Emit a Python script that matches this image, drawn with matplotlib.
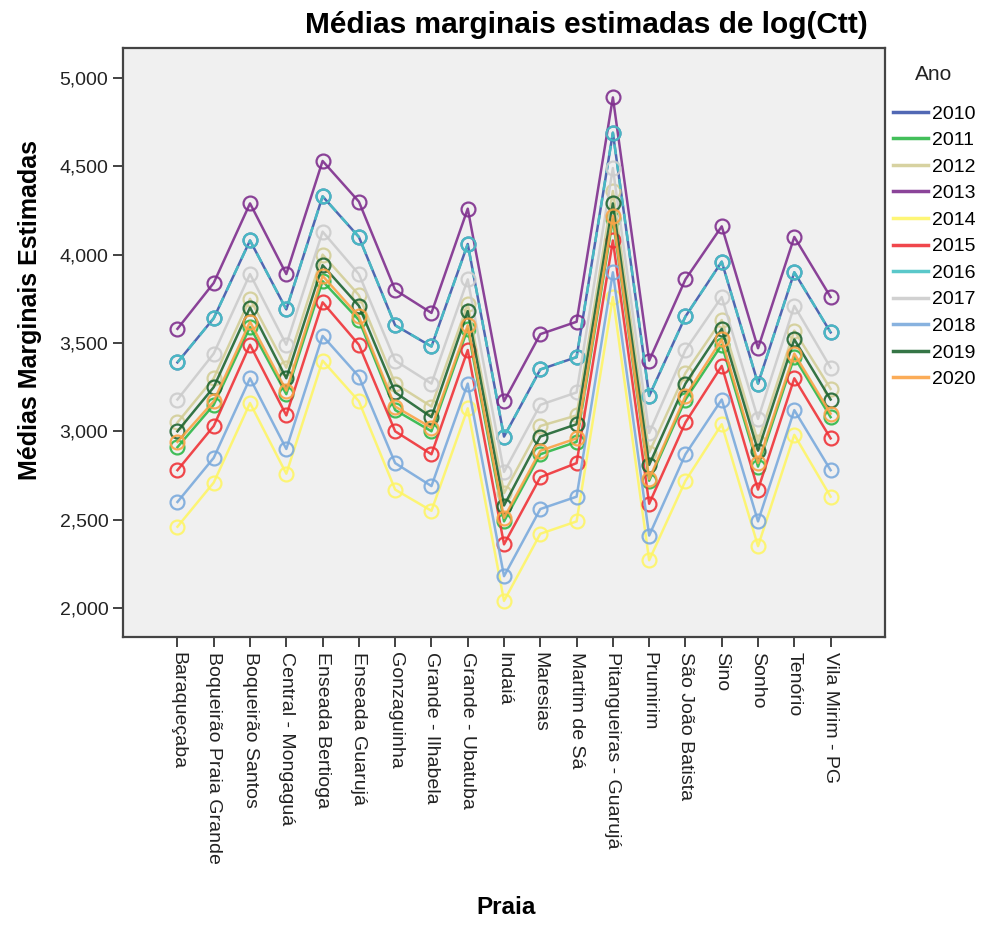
import matplotlib
matplotlib.use('Agg')
import matplotlib.pyplot as plt
from matplotlib.ticker import FuncFormatter

plt.rcParams['font.family'] = ['Liberation Sans', 'DejaVu Sans']

praias = ["Baraqueçaba", "Boqueirão Praia Grande", "Boqueirão Santos", "Central - Mongaguá",
          "Enseada Bertioga", "Enseada Guarujá", "Gonzaguinha", "Grande - Ilhabela",
          "Grande - Ubatuba", "Indaiá", "Maresias", "Martim de Sá", "Pitangueiras - Guarujá",
          "Prumirim", "São João Batista", "Sino", "Sonho", "Tenório", "Vila Mirim - PG"]

anos = ["2010", "2011", "2012", "2013", "2014", "2015", "2016", "2017", "2018", "2019", "2020"]

m2010 = [3.39, 3.64, 4.08, 3.69, 4.33, 4.10, 3.60, 3.48, 4.06, 2.97, 3.35, 3.42, 4.69, 3.20, 3.65, 3.96, 3.27, 3.90, 3.56]
m2011 = [2.91, 3.15, 3.59, 3.21, 3.85, 3.63, 3.12, 3.00, 3.58, 2.49, 2.87, 2.94, 4.20, 2.72, 3.18, 3.49, 2.80, 3.42, 3.08]
m2012 = [3.05, 3.30, 3.75, 3.36, 4.00, 3.77, 3.27, 3.14, 3.72, 2.65, 3.03, 3.09, 4.36, 2.88, 3.33, 3.63, 2.94, 3.57, 3.24]
m2013 = [3.58, 3.84, 4.29, 3.89, 4.53, 4.30, 3.80, 3.67, 4.26, 3.17, 3.55, 3.62, 4.89, 3.40, 3.86, 4.16, 3.47, 4.10, 3.76]
m2014 = [2.46, 2.71, 3.16, 2.76, 3.40, 3.17, 2.67, 2.55, 3.13, 2.04, 2.42, 2.49, 3.76, 2.27, 2.72, 3.04, 2.35, 2.98, 2.63]
m2015 = [2.78, 3.03, 3.49, 3.09, 3.73, 3.49, 3.00, 2.87, 3.46, 2.36, 2.74, 2.82, 4.08, 2.59, 3.05, 3.37, 2.67, 3.30, 2.96]
m2016 = [3.39, 3.64, 4.08, 3.69, 4.33, 4.10, 3.60, 3.48, 4.06, 2.97, 3.35, 3.42, 4.69, 3.20, 3.65, 3.96, 3.27, 3.90, 3.56]
m2017 = [3.18, 3.44, 3.89, 3.49, 4.13, 3.89, 3.40, 3.27, 3.86, 2.77, 3.15, 3.22, 4.49, 2.99, 3.46, 3.76, 3.07, 3.71, 3.36]
m2018 = [2.60, 2.85, 3.30, 2.90, 3.54, 3.31, 2.82, 2.69, 3.27, 2.18, 2.56, 2.63, 3.90, 2.41, 2.87, 3.18, 2.49, 3.12, 2.78]
m2019 = [3.00, 3.25, 3.70, 3.30, 3.94, 3.71, 3.22, 3.08, 3.68, 2.58, 2.97, 3.04, 4.29, 2.81, 3.27, 3.58, 2.89, 3.52, 3.18]
m2020 = [2.94, 3.17, 3.62, 3.23, 3.88, 3.65, 3.14, 3.02, 3.60, 2.51, 2.89, 2.96, 4.22, 2.73, 3.20, 3.52, 2.82, 3.44, 3.10]

medias = [m2010, m2011, m2012, m2013, m2014, m2015, m2016, m2017, m2018, m2019, m2020]
cores = ["#3e58ac", "#2eb848", "#d3ce97", "#7f2f8e", "#fef567", "#ef3338",
         "#48c2c5", "#cccccc", "#7baadc", "#1f6632", "#fba346"]

fig = plt.figure(figsize=(9.85, 9.25), dpi=100)
ax = fig.add_axes([0.1249, 0.3114, 0.7736, 0.6368])
ax.set_facecolor('#f0f0f0')

x = list(range(len(praias)))
for ano, vals, cor in zip(anos, medias, cores):
    ls = (0, (4, 3)) if ano == "2016" else '-'
    ax.plot(x, vals, color=cor, lw=1.8, ls=ls, marker='o', ms=10, mfc='none',
            mec=cor, mew=1.6, alpha=0.9, label=ano)

ax.set_xlim(-1.5, 19.5)
ax.set_ylim(1.836, 5.17)
ax.set_yticks([2.0, 2.5, 3.0, 3.5, 4.0, 4.5, 5.0])
ax.yaxis.set_major_formatter(FuncFormatter(lambda v, p: f"{v:.3f}".replace('.', ',')))
ax.set_xticks(x)
ax.set_xticklabels(praias, rotation=270, fontsize=14)
ax.tick_params(axis='y', labelsize=14, length=7, width=1.2, colors='#222222')
ax.tick_params(axis='x', length=7, width=1.2, colors='#222222')
for s in ax.spines.values():
    s.set_color('#444444')
    s.set_linewidth(1.6)

fig.text(0.595, 0.973, "Médias marginais estimadas de log(Ctt)", ha='center', va='center',
         fontsize=21.5, fontweight='bold')
fig.text(0.030, 0.665, "Médias Marginais Estimadas", rotation=90, ha='center', va='center',
         fontsize=18, fontweight='bold')
fig.text(0.514, 0.019, "Praia", ha='center', va='center', fontsize=17.5, fontweight='bold')

# legend title placed apart, as in the SPSS layout
fig.text(0.948, 0.919, "Ano", ha='center', va='center', fontsize=15, color='#222222')
leg = fig.legend(loc='upper left', bbox_to_anchor=(0.9066, 0.8865), frameon=False,
                 fontsize=14, handlelength=1.8, handletextpad=0.2,
                 labelspacing=0.46, borderaxespad=0, borderpad=0)
for h in leg.legend_handles:
    h.set_marker('')
    h.set_linestyle('-')
    h.set_linewidth(2.5)

fig.savefig('out.png', dpi=100)
